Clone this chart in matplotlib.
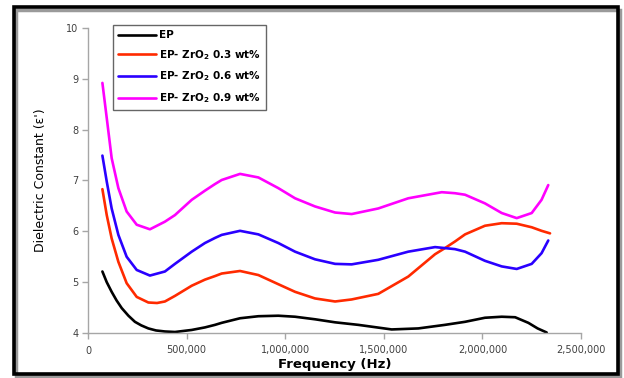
import matplotlib
matplotlib.use("Agg")
import matplotlib.pyplot as plt
from matplotlib.patches import Rectangle
from matplotlib.ticker import FuncFormatter

# values (frequency in Hz, dielectric constant)
ep_x = [73e3, 95e3, 120e3, 145e3, 171e3, 205e3, 238e3, 270e3, 306e3, 345e3, 390e3, 441e3, 526e3, 593e3,
        644e3, 678e3, 771e3, 864e3, 965e3, 1050e3, 1151e3, 1253e3, 1371e3, 1540e3, 1675e3, 1810e3,
        1912e3, 2013e3, 2098e3, 2166e3, 2233e3, 2280e3, 2326e3]
ep_y = [5.21, 5.00, 4.81, 4.64, 4.49, 4.34, 4.22, 4.15, 4.09, 4.05, 4.03, 4.02, 4.06, 4.11,
        4.16, 4.20, 4.29, 4.33, 4.34, 4.32, 4.27, 4.21, 4.16, 4.07, 4.09, 4.16,
        4.22, 4.30, 4.32, 4.31, 4.20, 4.09, 4.01]

zr3_x = [73e3, 95e3, 120e3, 154e3, 196e3, 247e3, 306e3, 350e3, 390e3, 441e3, 526e3, 593e3, 644e3,
         678e3, 771e3, 864e3, 965e3, 1050e3, 1151e3, 1253e3, 1337e3, 1472e3, 1624e3, 1760e3, 1810e3,
         1861e3, 1912e3, 2013e3, 2098e3, 2174e3, 2250e3, 2300e3, 2343e3]
zr3_y = [6.83, 6.32, 5.86, 5.40, 4.98, 4.71, 4.60, 4.59, 4.62, 4.73, 4.93, 5.05, 5.12,
         5.17, 5.22, 5.14, 4.96, 4.81, 4.68, 4.62, 4.66, 4.77, 5.11, 5.55, 5.67,
         5.80, 5.94, 6.11, 6.16, 6.15, 6.08, 6.01, 5.96]

zr6_x = [73e3, 95e3, 120e3, 154e3, 196e3, 247e3, 314e3, 390e3, 441e3, 526e3, 593e3, 644e3, 678e3,
         771e3, 864e3, 965e3, 1050e3, 1151e3, 1253e3, 1337e3, 1472e3, 1624e3, 1760e3, 1861e3, 1912e3,
         2013e3, 2098e3, 2174e3, 2250e3, 2300e3, 2334e3]
zr6_y = [7.49, 6.98, 6.45, 5.93, 5.50, 5.24, 5.13, 5.21, 5.36, 5.60, 5.77, 5.87, 5.93,
         6.01, 5.94, 5.77, 5.60, 5.45, 5.36, 5.35, 5.44, 5.60, 5.69, 5.65, 5.60,
         5.42, 5.31, 5.26, 5.36, 5.57, 5.82]

zr9_x = [73e3, 95e3, 120e3, 154e3, 196e3, 247e3, 314e3, 390e3, 441e3, 526e3, 593e3, 644e3, 678e3,
         771e3, 864e3, 965e3, 1050e3, 1151e3, 1253e3, 1337e3, 1472e3, 1624e3, 1794e3, 1861e3, 1912e3,
         2013e3, 2098e3, 2174e3, 2250e3, 2300e3, 2334e3]
zr9_y = [8.92, 8.23, 7.44, 6.85, 6.39, 6.13, 6.04, 6.19, 6.32, 6.62, 6.80, 6.93, 7.01,
         7.13, 7.06, 6.85, 6.65, 6.49, 6.37, 6.34, 6.45, 6.65, 6.77, 6.75, 6.72,
         6.55, 6.36, 6.26, 6.36, 6.62, 6.91]

labels = ["EP",
          r"EP- ZrO$_\mathbf{2}$ 0.3 wt%",
          r"EP- ZrO$_\mathbf{2}$ 0.6 wt%",
          r"EP- ZrO$_\mathbf{2}$ 0.9 wt%"]
colors = ["#000000", "#ff2a00", "#2a00ff", "#ff00ff"]
x_ticks = [0, 500000, 1000000, 1500000, 2000000, 2500000]
y_ticks = [4, 5, 6, 7, 8, 9, 10]

fig = plt.figure(figsize=(6.24, 3.78), dpi=100)
ax = fig.add_axes([88/624, 1 - 333/378, 493/624, 305/378])

series = [(ep_x, ep_y), (zr3_x, zr3_y), (zr6_x, zr6_y), (zr9_x, zr9_y)]
for (xs, ys), lab, c in zip(series, labels, colors):
    ax.plot(xs, ys, color=c, lw=1.9, label=lab, solid_capstyle="round", solid_joinstyle="round")

ax.set_xlim(0, 2500000)
ax.set_ylim(4, 10)
ax.set_xticks(x_ticks)
ax.set_yticks(y_ticks)
ax.xaxis.set_major_formatter(FuncFormatter(lambda v, p: "{:,.0f}".format(v)))

for s in ["top", "right"]:
    ax.spines[s].set_visible(False)
for s in ["left", "bottom"]:
    ax.spines[s].set_color("#a6a6a6")
    ax.spines[s].set_linewidth(1.0)
ax.tick_params(axis="both", direction="out", length=4, width=1, color="#a6a6a6",
               labelsize=7, labelcolor="#404040")
ax.tick_params(axis="x", pad=5)
ax.tick_params(axis="y", pad=3)

ax.set_xlabel("Frequency (Hz)", fontsize=9.5, fontweight="bold", labelpad=2)
ax.set_ylabel("Dielectric Constant (\u03b5')", fontsize=9, labelpad=14)

leg = ax.legend(loc="upper left", bbox_to_anchor=(0.051, 1.01), borderaxespad=0,
                frameon=True, fancybox=False, handlelength=3.6, handletextpad=0.3,
                labelspacing=0.75, borderpad=0.5, prop={"weight": "bold", "size": 7.5})
leg.get_frame().set_edgecolor("#404040")
leg.get_frame().set_linewidth(1.0)

# outer frame with a light shadow
fig.patches.append(Rectangle((16/624, 2/378), 604/624, 366/378, transform=fig.transFigure,
                             fill=False, edgecolor="#9a9a9a", lw=2.5, zorder=0))
fig.patches.append(Rectangle((13.5/624, 4.5/378), 604/624, 367/378, transform=fig.transFigure,
                             fill=False, edgecolor="#000000", lw=2.6, zorder=1))

fig.savefig("out.png", dpi=100)
